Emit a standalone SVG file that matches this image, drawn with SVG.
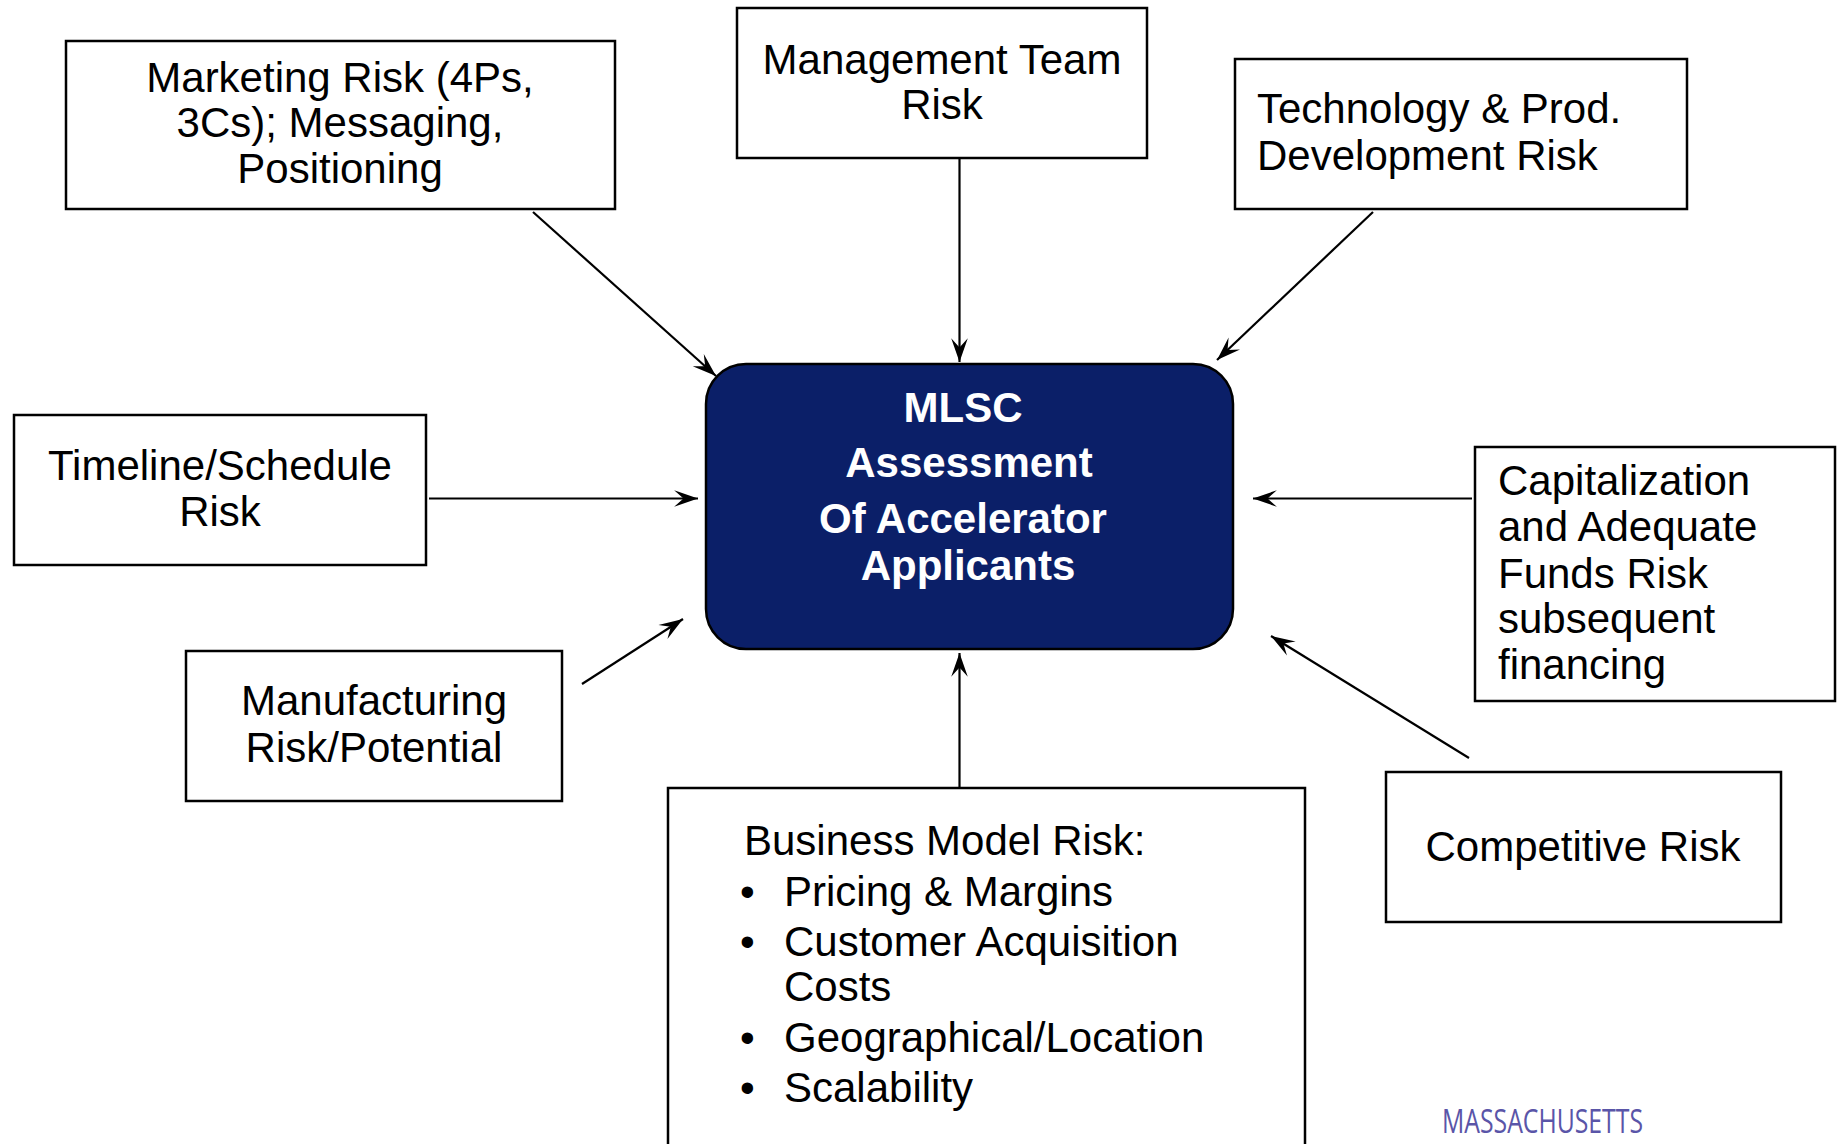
<svg xmlns="http://www.w3.org/2000/svg" width="1837" height="1144" viewBox="0 0 1837 1144">
  <style>
    .box { fill: #ffffff; stroke: #000000; stroke-width: 2.5; }
    .hub { fill: #0b1f68; stroke: #000000; stroke-width: 2.5; }
    .lbl { font-family: "Liberation Sans", Arial, Helvetica, sans-serif; font-size: 42px; fill: #000000; }
    .mid { text-anchor: middle; }
    .hubtxt { font-family: "Liberation Sans", Arial, Helvetica, sans-serif; font-size: 42px; font-weight: bold; fill: #ffffff; text-anchor: middle; }
    .link { stroke: #000000; stroke-width: 2.2; fill: none; marker-end: url(#arrow); }
    .brand { font-family: "Open Sans", "Liberation Sans", sans-serif; font-size: 33px; fill: #5a55a8; }
  </style>
  <defs>
    <!-- barbed arrowhead, tip at the line end -->
    <marker id="arrow" markerUnits="userSpaceOnUse" markerWidth="28" markerHeight="20" viewBox="-25 -9 27 18" refX="0" refY="0" orient="auto">
      <path d="M0,0 L-23,-8 L-14,0 L-23,8 Z" fill="#000000"/>
    </marker>
  </defs>

  <rect width="1837" height="1144" fill="#ffffff"/>

  <!-- connectors: every risk box points at the central assessment box -->
  <g id="connectors">
    <line class="link" x1="533" y1="212" x2="716" y2="376"/>
    <line class="link" x1="959.5" y1="158" x2="959.5" y2="362"/>
    <line class="link" x1="1373" y1="212" x2="1217" y2="360"/>
    <line class="link" x1="429" y1="498.5" x2="698" y2="498.5"/>
    <line class="link" x1="1472" y1="498.5" x2="1253" y2="498.5"/>
    <line class="link" x1="582" y1="684" x2="683" y2="619"/>
    <line class="link" x1="1469" y1="758" x2="1271" y2="636"/>
    <line class="link" x1="959.5" y1="788" x2="959.5" y2="653"/>
  </g>

  <!-- central node -->
  <g id="hub">
    <rect class="hub" x="706" y="364" width="527" height="285" rx="40" ry="40"/>
    <text class="hubtxt" x="963" y="422">MLSC</text>
    <text class="hubtxt" x="969" y="477">Assessment</text>
    <text class="hubtxt" x="963" y="533">Of Accelerator</text>
    <text class="hubtxt" x="968" y="580">Applicants</text>
  </g>

  <g id="marketing">
    <rect class="box" x="66" y="41" width="549" height="168"/>
    <text class="lbl mid" x="340" y="92">Marketing Risk (4Ps,</text>
    <text class="lbl mid" x="340" y="137">3Cs); Messaging,</text>
    <text class="lbl mid" x="340" y="183">Positioning</text>
  </g>

  <g id="management">
    <rect class="box" x="737" y="8" width="410" height="150"/>
    <text class="lbl mid" x="942" y="74">Management Team</text>
    <text class="lbl mid" x="942" y="119">Risk</text>
  </g>

  <g id="technology">
    <rect class="box" x="1235" y="59" width="452" height="150"/>
    <text class="lbl" x="1257" y="123">Technology &amp; Prod.</text>
    <text class="lbl" x="1257" y="170">Development Risk</text>
  </g>

  <g id="timeline">
    <rect class="box" x="14" y="415" width="412" height="150"/>
    <text class="lbl mid" x="220" y="480">Timeline/Schedule</text>
    <text class="lbl mid" x="220" y="526">Risk</text>
  </g>

  <g id="capitalization">
    <rect class="box" x="1475" y="447" width="360" height="254"/>
    <text class="lbl" x="1498" y="495">Capitalization</text>
    <text class="lbl" x="1498" y="541">and Adequate</text>
    <text class="lbl" x="1498" y="588">Funds Risk</text>
    <text class="lbl" x="1498" y="633">subsequent</text>
    <text class="lbl" x="1498" y="679">financing</text>
  </g>

  <g id="manufacturing">
    <rect class="box" x="186" y="651" width="376" height="150"/>
    <text class="lbl mid" x="374" y="715">Manufacturing</text>
    <text class="lbl mid" x="374" y="762">Risk/Potential</text>
  </g>

  <g id="competitive">
    <rect class="box" x="1386" y="772" width="395" height="150"/>
    <text class="lbl mid" x="1583" y="861">Competitive Risk</text>
  </g>

  <g id="business-model">
    <rect class="box" x="668" y="788" width="637" height="380"/>
    <text class="lbl" x="744" y="855">Business Model Risk:</text>
    <text class="lbl" x="740" y="906">•</text>
    <text class="lbl" x="784" y="906">Pricing &amp; Margins</text>
    <text class="lbl" x="740" y="956">•</text>
    <text class="lbl" x="784" y="956">Customer Acquisition</text>
    <text class="lbl" x="784" y="1001">Costs</text>
    <text class="lbl" x="740" y="1052">•</text>
    <text class="lbl" x="784" y="1052">Geographical/Location</text>
    <text class="lbl" x="740" y="1102">•</text>
    <text class="lbl" x="784" y="1102">Scalability</text>
  </g>

  <g id="wordmark">
    <text class="brand" x="1442" y="1133" textLength="201" lengthAdjust="spacingAndGlyphs">MASSACHUSETTS</text>
  </g>
</svg>
